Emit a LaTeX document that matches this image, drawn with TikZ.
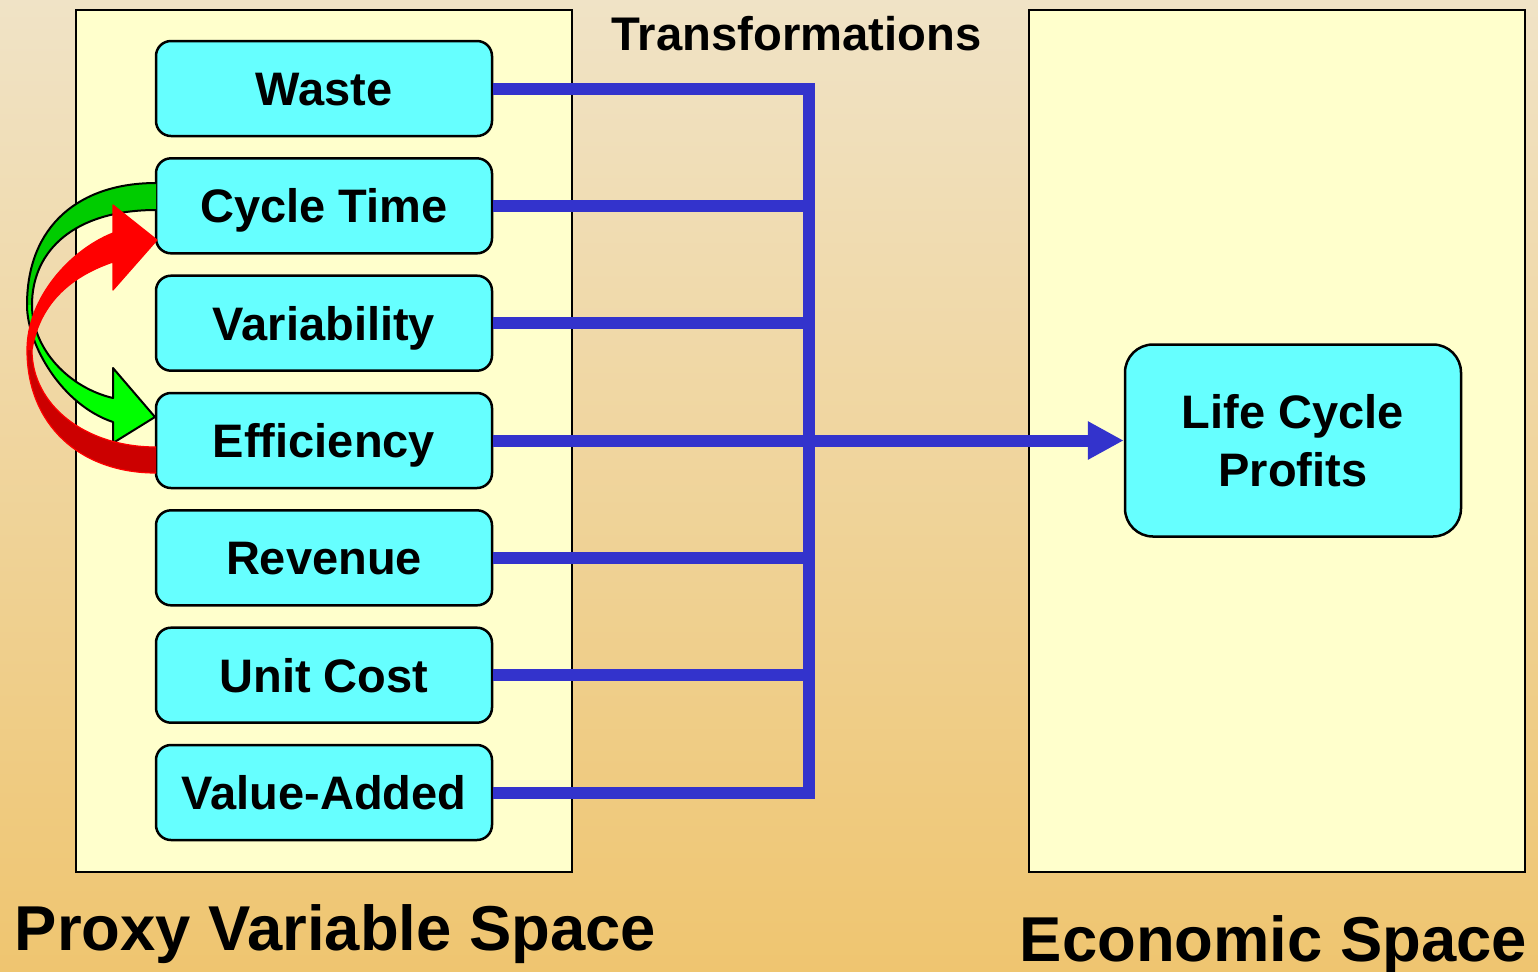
\documentclass[tikz,border=0pt]{standalone}
\usepackage{fontspec}
\setmainfont{Liberation Sans}
\usetikzlibrary{arrows.meta}

\definecolor{bgtop}{RGB}{240,227,198}
\definecolor{bgbot}{RGB}{239,197,112}
\definecolor{panel}{RGB}{255,255,204}
\definecolor{cyanfill}{RGB}{102,255,255}
\definecolor{busblue}{RGB}{51,51,204}
\definecolor{gdark}{RGB}{0,204,0}
\definecolor{glight}{RGB}{0,255,0}
\definecolor{rdark}{RGB}{204,0,0}
\definecolor{rlight}{RGB}{255,0,0}

\tikzset{
  panelbox/.style={draw=black, line width=1.25pt, fill=panel,
    minimum width=248pt, minimum height=431pt, inner sep=0pt},
  varbox/.style={draw=black, line width=1.25pt, fill=cyanfill,
    rounded corners=7.5pt, minimum width=168pt, minimum height=47.5pt,
    inner sep=0pt, font=\fontsize{23.5}{28}\selectfont\bfseries,
    text height=16.8pt, text depth=0pt},
  goalbox/.style={draw=black, line width=1.25pt, fill=cyanfill,
    rounded corners=14pt, minimum width=168pt, minimum height=96pt,
    inner sep=0pt, align=center,
    font=\fontsize{23.5}{29}\selectfont\bfseries},
  bus/.style={draw=busblue, line width=6pt, line join=miter},
  biglabel/.style={font=\fontsize{31.7}{36}\selectfont\bfseries,
    anchor=base, inner sep=0pt},
  toplabel/.style={font=\fontsize{23.6}{28}\selectfont\bfseries,
    anchor=base, inner sep=0pt},
}

\begin{document}
\begin{tikzpicture}[x=0.5pt,y=-0.5pt]
  % background
  \shade[top color=bgtop, bottom color=bgbot] (0,0) rectangle (1538,971);
  \useasboundingbox (0,0) rectangle (1538,971);

  % the two spaces
  \node[panelbox] (proxy) at (324,441) {};
  \node[panelbox] (econ) at (1277,441) {};

  % proxy variables
  \node[varbox] (waste) at (324,88.5) {Waste};
  \node[varbox] (cycle) at (324,205.8) {Cycle Time};
  \node[varbox] (vari)  at (324,323.2) {Variability};
  \node[varbox] (eff)   at (324,440.5) {Efficiency};
  \node[varbox] (rev)   at (324,557.8) {Revenue};
  \node[varbox] (unit)  at (324,675.2) {Unit Cost};
  \node[varbox] (value) at (324,792.5) {Value-Added};

  % economic target
  \node[goalbox] (lcp) at (1293,440.5) {Life Cycle\\Profits};

  % transformation bus
  \coordinate (bustop) at (808.5,88.5);
  \coordinate (busbot) at (808.5,792.5);
  \draw[bus] (waste.east) -- (bustop) -- (busbot) -- (value.east);
  \draw[bus] (cycle.east) -- (cycle.east -| bustop);
  \draw[bus] (vari.east) -- (vari.east -| bustop);
  \draw[bus] (rev.east) -- (rev.east -| bustop);
  \draw[bus] (unit.east) -- (unit.east -| bustop);
  \draw[bus, -{Triangle[length=18pt,width=18pt]}] (eff.east) -- (lcp.west);

  % green curved arrow: Cycle Time -> Efficiency
  \fill[gdark] (156,183) .. controls (80,183) and (27,225) .. (27,305)
    -- (32,305) .. controls (32,250) and (75,210) .. (156,210) -- cycle;
  \fill[glight] (27,305) .. controls (27,345) and (62,405) .. (113,422)
    -- (113,443) -- (155,417) -- (113,368) -- (113,398)
    .. controls (70,388) and (32,350) .. (32,305) -- cycle;
  \draw[black, line width=1pt, line join=round]
    (156,210) .. controls (75,210) and (32,250) .. (32,305)
    .. controls (32,350) and (70,388) .. (113,398)
    -- (113,368) -- (155,417) -- (113,443) -- (113,422)
    .. controls (62,405) and (27,345) .. (27,305)
    .. controls (27,225) and (80,183) .. (156,183);

  % red curved arrow: Efficiency -> Cycle Time
  \fill[rdark] (156,473) .. controls (80,473) and (27,425) .. (27,350)
    -- (32,350) .. controls (32,405) and (85,447) .. (156,447) -- cycle;
  \fill[rlight] (27,350) .. controls (27,298) and (70,250) .. (113,233)
    -- (113,205) -- (157,240) -- (113,290) -- (113,262)
    .. controls (75,275) and (40,300) .. (32,350) -- cycle;
  \draw[rlight, line width=0.6pt, line join=round]
    (156,447) .. controls (85,447) and (32,405) .. (32,350)
    .. controls (40,300) and (75,275) .. (113,262)
    -- (113,290) -- (157,240) -- (113,205) -- (113,233)
    .. controls (70,250) and (27,298) .. (27,350)
    .. controls (27,425) and (80,473) .. (156,473);

  % labels
  \node[toplabel] (trans) at (796.5,50) {Transformations};
  \node[biglabel] (proxylabel) at (335.5,950) {Proxy Variable Space};
  \node[biglabel] (econlabel) at (1273.5,961) {Economic Space};
\end{tikzpicture}
\end{document}
